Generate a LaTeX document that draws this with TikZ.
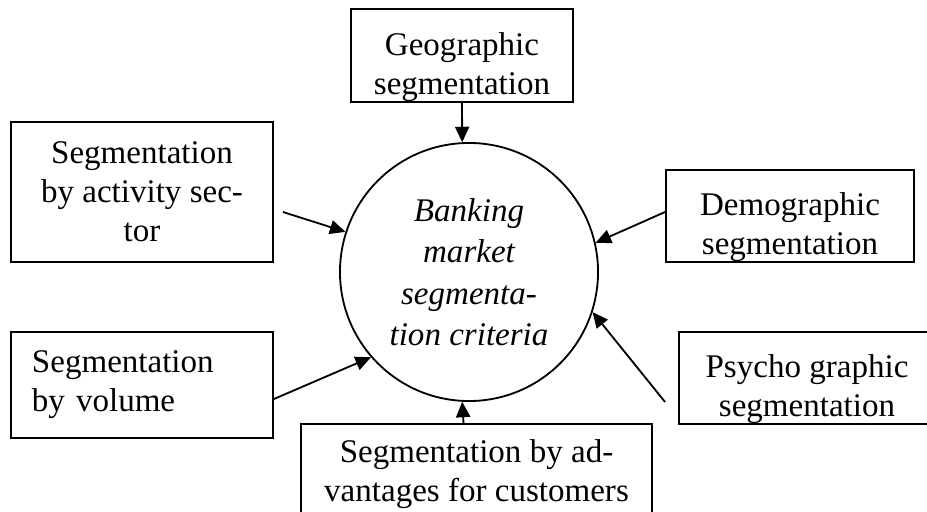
\documentclass[tikz,border=0pt]{standalone}
\usepackage{fontspec}
\setmainfont{Liberation Serif}
\usetikzlibrary{arrows.meta}

\begin{document}
\begin{tikzpicture}[x=0.025cm, y=-0.025cm,
  every node/.style={rectangle, draw, line width=1.3pt, align=center, inner sep=0pt,
    font=\fontsize{23.5}{27.7}\selectfont},
  low/.style={text height=60pt},
  arr/.style={-{Triangle[length=11pt, width=10pt]}, line width=1.3pt}]
\useasboundingbox (0,0) rectangle (927,512);
\clip (0,0) rectangle (927,512);
\node[circle, minimum size=6.45cm, font=\fontsize{23.5}{29.5}\selectfont\itshape] (N0) at (469,272) {Banking\\ market\\ segmenta-\\ tion criteria};
\node[low, minimum width=5.55cm, minimum height=2.325cm] (N1) at (462,55.5) {Geographic\\ segmentation};
\node[minimum width=6.55cm, minimum height=3.5cm] (N2) at (142,192) {Segmentation\\ by activity sec-\\ tor};
\node[low, minimum width=6.2cm, minimum height=2.3cm] (N3) at (790,216) {Demographic\\ segmentation};
\node[minimum width=6.55cm, minimum height=2.65cm, text width=5.5cm, align=left] (N4) at (142,385) {Segmentation\\ by volume};
\node[low, minimum width=6.4cm, minimum height=2.3cm] (N5) at (807,378) {Psycho graphic\\ segmentation};
\node[minimum width=8.775cm, minimum height=2.5cm] (N6) at (476.5,474) {Segmentation by ad-\\ vantages for customers};
\draw[arr] (N1.south) -- (N0.93);
\draw[arr] ([shift={(9,20)}]N2.east) -- (N0.162);
\draw[arr] ([shift={(0,-4)}]N3.west) -- (N0.13);
\draw[arr] ([shift={(0,14)}]N4.east) -- (N0.221);
\draw[arr] ([shift={(-13,24)}]N5.west) -- (N0.342);
\draw[arr] ([shift={(-13,0)}]N6.north) -- (N0.267);
\end{tikzpicture}
\end{document}
